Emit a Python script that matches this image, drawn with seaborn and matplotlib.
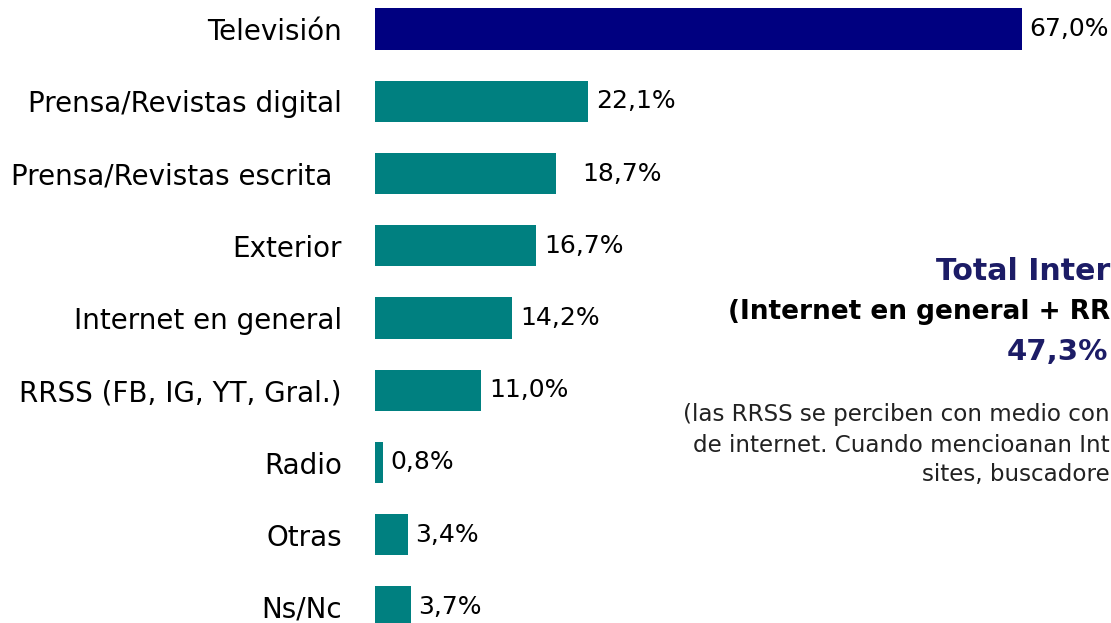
import matplotlib
matplotlib.use("Agg")
import matplotlib.pyplot as plt
import pandas as pd
import seaborn as sns

sns.set_theme(style="white")
plt.rcParams["font.family"] = ["DejaVu Sans"]

NAVY = "#000080"
TEAL = "#008080"
TITLE = "#1c1c66"

categories = [
    "Televisión",
    "Prensa/Revistas digital",
    "Prensa/Revistas escrita ",
    "Exterior",
    "Internet en general",
    "RRSS (FB, IG, YT, Gral.)",
    "Radio",
    "Otras",
    "Ns/Nc",
]
values = [67.0, 22.1, 18.7, 16.7, 14.2, 11.0, 0.8, 3.4, 3.7]
value_labels = ["67,0%", "22,1%", "18,7%", "16,7%", "14,2%", "11,0%", "0,8%", "3,4%", "3,7%"]

# the side box runs past the right edge of the slide, only this part is visible
total_title = "Total Inter"
total_sub = "(Internet en general + RR"
total_value = "47,3%"
note_lines = [
    "(las RRSS se perciben con medio con",
    "de internet. Cuando mencioanan Int",
    "sites, buscadore",
]

df = pd.DataFrame({"medio": categories, "pct": values})
colors = [NAVY] + [TEAL] * (len(categories) - 1)

W, H = 1111, 623
fig = plt.figure(figsize=(W / 100, H / 100), dpi=100)
fig.patch.set_facecolor("white")
ax = fig.add_axes([375 / W, 0, 736 / W, 1])

sns.barplot(data=df, x="pct", y="medio", hue="medio", palette=colors,
            saturation=1, linewidth=0, legend=False, width=0.57, ax=ax, orient="h")

ax.set_xlim(0, 736 / 9.657)
ax.set_ylim(8 + 16 / 72.25, -29 / 72.25)
ax.set_xlabel("")
ax.set_ylabel("")
ax.set_xticks([])
ax.tick_params(axis="y", length=0, pad=24, labelsize=20, labelcolor="black")
for lab in ax.get_yticklabels():
    lab.set_y(lab.get_position()[1])
for s in ax.spines.values():
    s.set_visible(False)

# value labels, the 18,7% one sits a bit further out in the original
extra = {2: 2.0}
for i, (v, lab) in enumerate(zip(values, value_labels)):
    ax.text(v + 0.8 + extra.get(i, 0), i, lab, va="center", ha="left",
            fontsize=18, color="black")

fig.text(1110 / W, 1 - 271 / H, total_title, ha="right", va="center",
         fontsize=21.6, fontweight="bold", color=TITLE)
fig.text(1110 / W, 1 - 312 / H, total_sub, ha="right", va="center",
         fontsize=19, fontweight="bold", color="black")
fig.text(1108 / W, 1 - 352 / H, total_value, ha="right", va="center",
         fontsize=21, fontweight="bold", color=TITLE)

note_y = [415, 445, 474]
for y, line in zip(note_y, note_lines):
    fig.text(1110 / W, 1 - y / H, line, ha="right", va="center",
             fontsize=16.6, color="#222222")

fig.savefig("out.png", dpi=100, facecolor="white")
